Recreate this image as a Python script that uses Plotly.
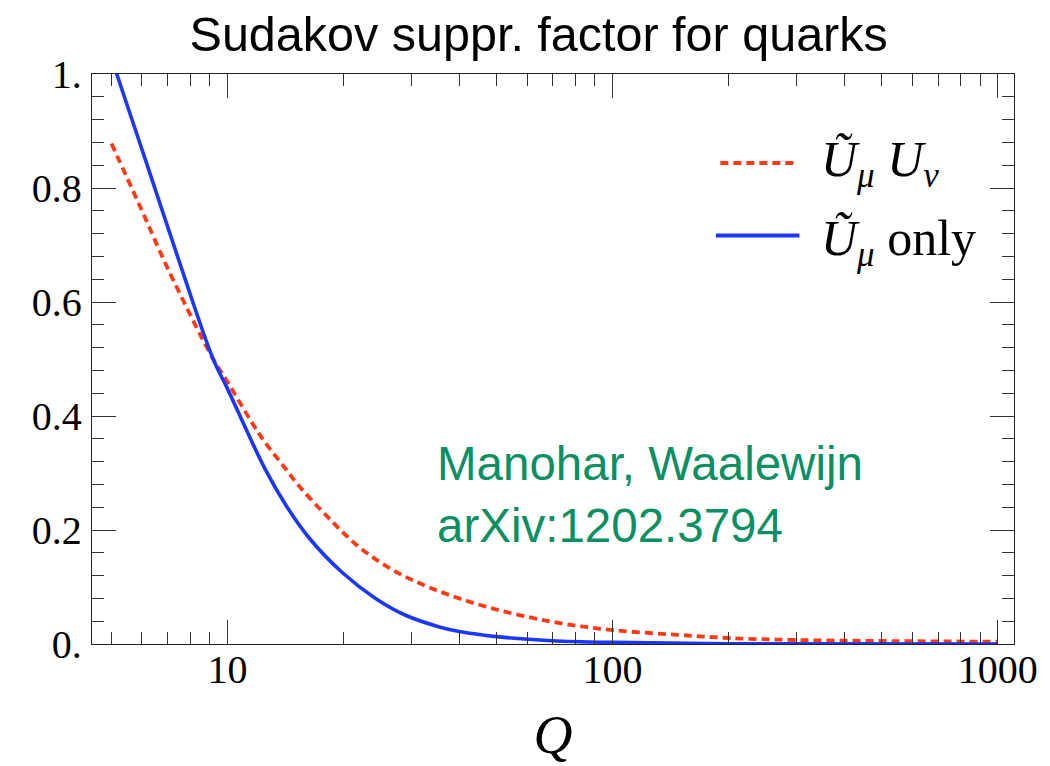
import plotly.graph_objects as go

# Sudakov suppression factor vs. hard scale Q (quarks)
q_mu_only = [5.0, 5.16, 6.29, 7.67, 9.18, 10.0, 12.5, 14.2, 16.3, 19.9, 24.3, 29.1,
             35.5, 40.0, 50.7, 69.7, 100.0, 200.0, 1000.0]
u_mu_only = [1.027, 1.0, 0.826, 0.651, 0.50, 0.448, 0.308, 0.243, 0.186, 0.125, 0.0795, 0.050,
             0.030, 0.022, 0.0125, 0.0058, 0.0028, 0.0005, 0.0]

q_mu_nu = [5.0, 5.93, 7.02, 9.18, 10.0, 11.54, 12.5, 13.93, 15.4, 18.2, 21.8, 26.85,
           34.1, 46.9, 69.7, 100.0, 148.5, 200.0, 300.0, 500.0, 1000.0]
u_mu_nu = [0.878, 0.768, 0.657, 0.50, 0.46, 0.39, 0.3545, 0.3135, 0.276, 0.223, 0.172, 0.130,
           0.097, 0.0655, 0.039, 0.0245, 0.016, 0.0105, 0.007, 0.0053, 0.004]

x_tickvals = [10, 100, 1000]
x_ticktext = ["10", "100", "1000"]
x_minor = [5, 6, 7, 8, 9, 20, 30, 40, 50, 60, 70, 80, 90,
           200, 300, 400, 500, 600, 700, 800, 900]
y_tickvals = [0, 0.2, 0.4, 0.6, 0.8, 1.0]
y_ticktext = ["0.", "0.2", "0.4", "0.6", "0.8", "1."]

RED = "#ff3a17"
BLUE = "#1b36ff"
GREEN = "#0b8f63"
SERIF = "Liberation Serif"
SANS = "Liberation Sans"

fig = go.Figure()
fig.add_trace(go.Scatter(
    x=q_mu_nu, y=u_mu_nu, mode="lines", showlegend=False,
    line=dict(color=RED, width=3.8, dash="8px,5px", shape="spline", smoothing=1.0),
))
fig.add_trace(go.Scatter(
    x=q_mu_only, y=u_mu_only, mode="lines", showlegend=False,
    line=dict(color=BLUE, width=3.6, shape="spline", smoothing=1.0),
))

axis_common = dict(
    showline=True, linecolor="#222", linewidth=1.3, mirror="ticks",
    ticks="inside", ticklen=24, tickwidth=1.2, tickcolor="#333",
    showgrid=False, zeroline=False,
    tickfont=dict(family=SERIF, size=40, color="black"),
)

fig.update_xaxes(
    type="log", range=[0.6484, 3.0422],
    tickvals=x_tickvals, ticktext=x_ticktext,
    minor=dict(tickvals=x_minor, ticks="inside", ticklen=12, tickwidth=1.2, tickcolor="#333"),
    ticklabelstandoff=-10,
    title=dict(text="<i>Q</i>", font=dict(family=SERIF, size=54, color="black"), standoff=24),
    **axis_common,
)
fig.update_yaxes(
    range=[0, 1],
    tickvals=y_tickvals, ticktext=y_ticktext,
    minor=dict(dtick=0.04, ticks="inside", ticklen=12, tickwidth=1.2, tickcolor="#333"),
    ticklabelstandoff=1,
    **axis_common,
)

# legend drawn by hand so the sample lines can be long
fig.add_shape(type="line", xref="paper", yref="paper",
              x0=0.6815, x1=0.7627, y0=0.8439, y1=0.8439,
              line=dict(color=RED, width=3.8, dash="8px,5px"))
fig.add_shape(type="line", xref="paper", yref="paper",
              x0=0.6767, x1=0.7673, y0=0.7168, y1=0.7168,
              line=dict(color=BLUE, width=4))
fig.add_annotation(xref="paper", yref="paper", x=0.788, y=0.843,
                   xanchor="left", yanchor="middle", showarrow=False,
                   text="<i>Ũ</i><sub><i>μ</i></sub> <i>U</i><sub><i>ν</i></sub>",
                   font=dict(family=SERIF, size=50, color="black"))
fig.add_annotation(xref="paper", yref="paper", x=0.788, y=0.705,
                   xanchor="left", yanchor="middle", showarrow=False,
                   text="<i>Ũ</i><sub><i>μ</i></sub> only",
                   font=dict(family=SERIF, size=50, color="black"))

fig.add_annotation(xref="paper", yref="paper", x=0.372, y=0.262,
                   xanchor="left", yanchor="middle", showarrow=False, align="left",
                   text="Manohar, Waalewijn<br>arXiv:1202.3794",
                   font=dict(family=SANS, size=47.5, color=GREEN))

fig.update_layout(
    width=1050, height=766,
    margin=dict(l=92, r=34, t=74, b=120),
    paper_bgcolor="white", plot_bgcolor="white",
    title=dict(text="Sudakov suppr. factor for quarks", x=0.513, y=0.955,
               xanchor="center", yanchor="middle",
               font=dict(family=SANS, size=48.5, color="black")),
)

fig.write_html("out.html")
